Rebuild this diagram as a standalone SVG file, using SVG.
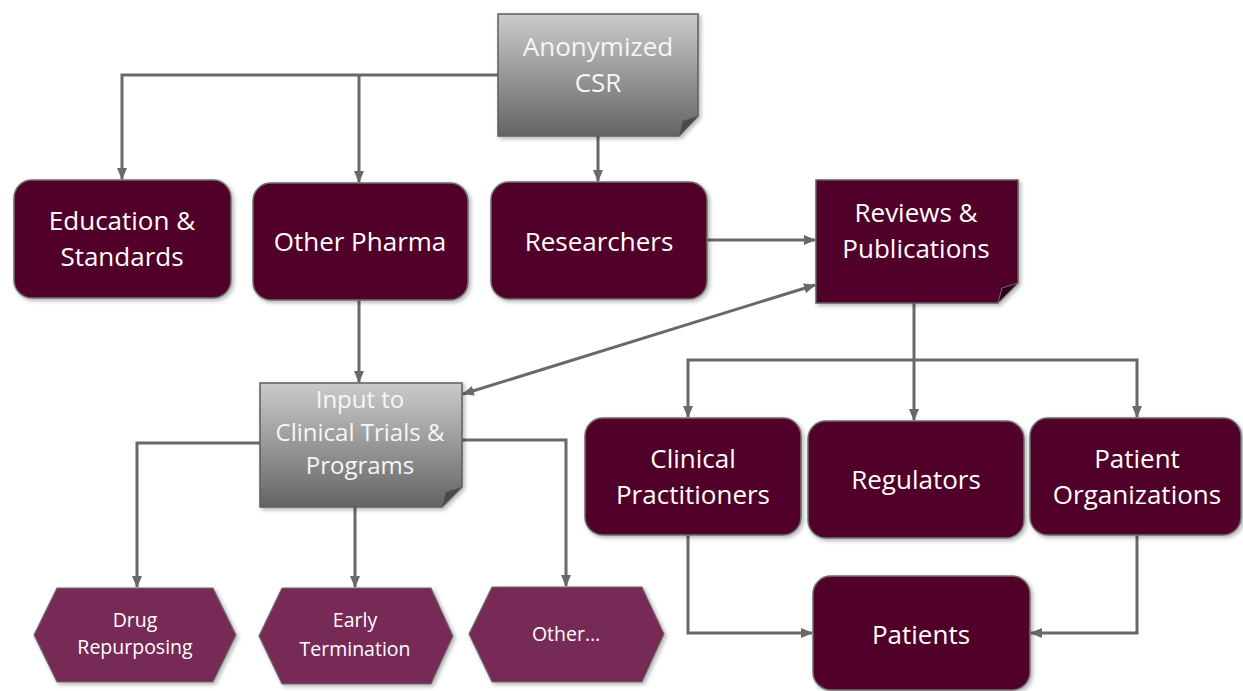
<svg xmlns="http://www.w3.org/2000/svg" width="1243" height="691" viewBox="0 0 1243 691">
  <style>
    .box { fill: #510029; stroke: #6e6e6e; stroke-width: 1.5; filter: url(#shadow); }
    .hex { fill: #772954; stroke: #6e6e6e; stroke-width: 1.2; filter: url(#shadow); }
    .doc { stroke: #5e5e5e; stroke-width: 1.5; filter: url(#shadow); }
    .fold { fill: #4a4a4a; stroke: #5e5e5e; stroke-width: 1; }
    .fold-dark { fill: #2e0018; stroke: #6e6e6e; stroke-width: 1; }
    .lbl { font-family: "Open Sans", "Noto Sans", sans-serif; font-size: 26px; fill: #ffffff; text-anchor: middle; }
    .lbl-doc { font-family: "Open Sans", "Noto Sans", sans-serif; font-size: 26px; fill: #f6f6f6; text-anchor: middle; }
    .lbl-in { font-family: "Open Sans", "Noto Sans", sans-serif; font-size: 24px; fill: #f6f6f6; text-anchor: middle; }
    .lbl-hex { font-family: "Open Sans", "Noto Sans", sans-serif; font-size: 19.5px; fill: #ffffff; text-anchor: middle; }
    .wire { fill: none; stroke: #696969; stroke-width: 3; }
  </style>
  <defs>
    <linearGradient id="grey" x1="0" y1="0" x2="0" y2="1">
      <stop offset="0" stop-color="#cbcbcb"/>
      <stop offset="1" stop-color="#646464"/>
    </linearGradient>
    <filter id="shadow" x="-10%" y="-10%" width="130%" height="130%">
      <feDropShadow dx="2" dy="2" stdDeviation="2" flood-color="#000" flood-opacity="0.3"/>
    </filter>
    <marker id="arrow" markerUnits="userSpaceOnUse" markerWidth="12" markerHeight="10" refX="11" refY="5" orient="auto-start-reverse">
      <path d="M0,0 L12,5 L0,10 Z" fill="#696969"/>
    </marker>
  </defs>

  <!-- connectors -->
  <g id="connectors">
    <path class="wire" d="M498,75 H122 V179" marker-end="url(#arrow)"/>
    <path class="wire" d="M359,75 V182" marker-end="url(#arrow)"/>
    <path class="wire" d="M598,136 V181" marker-end="url(#arrow)"/>
    <path class="wire" d="M707,240 H815" marker-end="url(#arrow)"/>
    <path class="wire" d="M463,394 L815,285" marker-start="url(#arrow)" marker-end="url(#arrow)"/>
    <path class="wire" d="M359,300 V382" marker-end="url(#arrow)"/>
    <path class="wire" d="M260,443 H137 V587" marker-end="url(#arrow)"/>
    <path class="wire" d="M355,507 V587" marker-end="url(#arrow)"/>
    <path class="wire" d="M462,440 H566 V586" marker-end="url(#arrow)"/>
    <path class="wire" d="M914,303 V420" stroke-width="4" marker-end="url(#arrow)"/>
    <path class="wire" d="M688,417 V360 H1137 V417" marker-start="url(#arrow)" marker-end="url(#arrow)"/>
    <path class="wire" d="M688,535 V633 H812" marker-end="url(#arrow)"/>
    <path class="wire" d="M1137,535 V633 H1031" marker-end="url(#arrow)"/>
  </g>

  <!-- source document -->
  <g id="anonymized-csr">
    <path class="doc" fill="url(#grey)" d="M498,14 H698 V116 L679,136 H498 Z"/>
    <path class="fold" d="M698,116 L679,136 L683,121 Z"/>
    <text class="lbl-doc" x="598" y="56">Anonymized</text>
    <text class="lbl-doc" x="598" y="92">CSR</text>
  </g>

  <g id="education-standards">
    <rect class="box" x="14" y="180" width="217" height="118" rx="18"/>
    <text class="lbl" x="122" y="230">Education &amp;</text>
    <text class="lbl" x="122" y="266">Standards</text>
  </g>

  <g id="other-pharma">
    <rect class="box" x="253" y="183" width="215" height="117" rx="18"/>
    <text class="lbl" x="360" y="251">Other Pharma</text>
  </g>

  <g id="researchers">
    <rect class="box" x="491" y="182" width="216" height="117" rx="18"/>
    <text class="lbl" x="599" y="251">Researchers</text>
  </g>

  <g id="reviews-publications">
    <path class="doc" fill="#510029" d="M816,180 H1018 V283 L998,303 H816 Z"/>
    <path class="fold-dark" d="M1018,283 L998,303 L1002,288 Z"/>
    <text class="lbl" x="916" y="222">Reviews &amp;</text>
    <text class="lbl" x="916" y="258">Publications</text>
  </g>

  <g id="input-clinical-trials">
    <path class="doc" fill="url(#grey)" d="M260,383 H462 V487 L442,507 H260 Z"/>
    <path class="fold" d="M462,487 L442,507 L446,492 Z"/>
    <text class="lbl-in" x="360" y="408">Input to</text>
    <text class="lbl-in" x="360" y="441">Clinical Trials &amp;</text>
    <text class="lbl-in" x="360" y="474">Programs</text>
  </g>

  <g id="clinical-practitioners">
    <rect class="box" x="585" y="418" width="216" height="117" rx="18"/>
    <text class="lbl" x="693" y="468">Clinical</text>
    <text class="lbl" x="693" y="504">Practitioners</text>
  </g>

  <g id="regulators">
    <rect class="box" x="808" y="421" width="216" height="117" rx="18"/>
    <text class="lbl" x="916" y="489">Regulators</text>
  </g>

  <g id="patient-organizations">
    <rect class="box" x="1030" y="418" width="211" height="117" rx="18"/>
    <text class="lbl" x="1137" y="468">Patient</text>
    <text class="lbl" x="1137" y="504">Organizations</text>
  </g>

  <g id="patients">
    <rect class="box" x="813" y="576" width="217" height="114" rx="18"/>
    <text class="lbl" x="921" y="644">Patients</text>
  </g>

  <g id="drug-repurposing">
    <polygon class="hex" points="57,588 213,588 236,635 213,682 57,682 34,635"/>
    <text class="lbl-hex" x="135" y="627">Drug</text>
    <text class="lbl-hex" x="135" y="654">Repurposing</text>
  </g>

  <g id="early-termination">
    <polygon class="hex" points="282,588 431,588 453,636 431,684 282,684 259,636"/>
    <text class="lbl-hex" x="355" y="627">Early</text>
    <text class="lbl-hex" x="355" y="656">Termination</text>
  </g>

  <g id="other">
    <polygon class="hex" points="492,587 642,587 664,634 642,682 492,682 469,634"/>
    <text class="lbl-hex" x="566" y="641">Other…</text>
  </g>
</svg>
